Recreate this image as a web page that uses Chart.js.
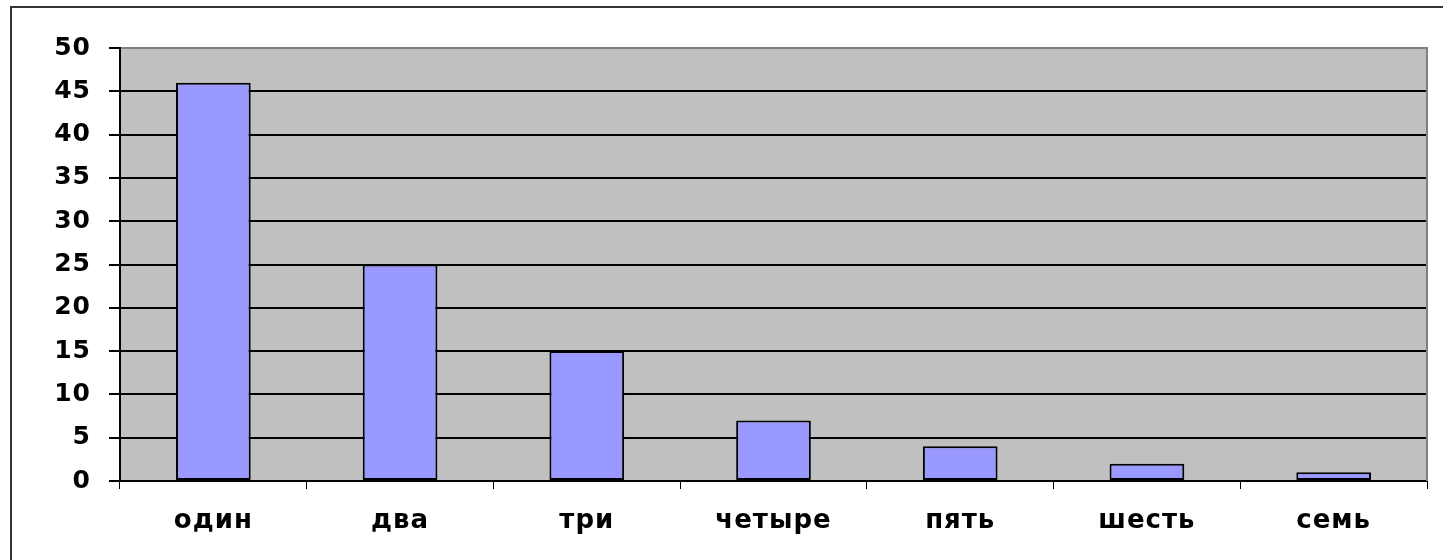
<!DOCTYPE html>
<html>
<head>
<meta charset="utf-8">
<script src="https://cdn.jsdelivr.net/npm/chart.js@4"></script>
<style>
html,body{margin:0;padding:0;background:#fff;}
#wrap{width:1443px;height:560px;position:relative;}
</style>
</head>
<body>
<div id="wrap"><canvas id="c" width="1443" height="560"></canvas></div>
<script>
const categories = ['один', 'два', 'три', 'четыре', 'пять', 'шесть', 'семь'];
const values = [46, 25, 15, 7, 4, 2, 1];
const yMin = 0;
const yMax = 50;
const yStep = 5;

const framePlugin = {
  id: 'frame',
  beforeDraw(chart) {
    const ctx = chart.ctx;
    const a = chart.chartArea;
    ctx.save();
    ctx.fillStyle = '#ffffff';
    ctx.fillRect(0, 0, chart.width, chart.height);
    ctx.fillStyle = '#C0C0C0';
    ctx.fillRect(a.left, a.top, a.right - a.left, a.bottom - a.top);
    ctx.strokeStyle = '#333333';
    ctx.lineWidth = 2;
    ctx.beginPath();
    ctx.moveTo(11, chart.height);
    ctx.lineTo(11, 7);
    ctx.lineTo(chart.width, 7);
    ctx.stroke();
    ctx.restore();
    if ('letterSpacing' in ctx) { ctx.letterSpacing = '1px'; }
  },
  beforeDatasetsDraw(chart) {
    const ctx = chart.ctx;
    const a = chart.chartArea;
    ctx.save();
    ctx.strokeStyle = '#808080';
    ctx.lineWidth = 2;
    ctx.beginPath();
    ctx.moveTo(a.left + 1, a.top);
    ctx.lineTo(a.right, a.top);
    ctx.lineTo(a.right, a.bottom);
    ctx.stroke();
    ctx.restore();
  }
};

new Chart(document.getElementById('c'), {
  type: 'bar',
  data: {
    labels: categories,
    datasets: [{
      data: values,
      backgroundColor: '#9999FF',
      borderColor: '#000000',
      borderWidth: 2,
      borderSkipped: false,
      categoryPercentage: 1.0,
      barPercentage: 0.4
    }]
  },
  options: {
    responsive: false,
    animation: false,
    devicePixelRatio: 1,
    layout: { padding: { left: 0, right: 16, top: 48, bottom: 0 } },
    plugins: { legend: { display: false }, tooltip: { enabled: false } },
    scales: {
      x: {
        afterFit(s) { s.height = 79; },
        grid: { display: true, offset: true, drawOnChartArea: false, drawTicks: true, tickLength: 8, color: '#000000', lineWidth: 1 },
        border: { display: true, color: '#000000', width: 2 },
        ticks: { color: '#000000', padding: 17, font: { family: 'DejaVu Sans', weight: 'bold', size: 26 } }
      },
      y: {
        min: yMin,
        max: yMax,
        afterFit(s) { s.width = 120; },
        grid: { display: true, drawOnChartArea: true, drawTicks: true, tickLength: 11, color: '#000000', lineWidth: 2 },
        border: { display: true, color: '#000000', width: 2 },
        ticks: { stepSize: yStep, color: '#000000', padding: 18, font: { family: 'DejaVu Sans', weight: 'bold', size: 25 } }
      }
    }
  },
  plugins: [framePlugin]
});
</script>
</body>
</html>
